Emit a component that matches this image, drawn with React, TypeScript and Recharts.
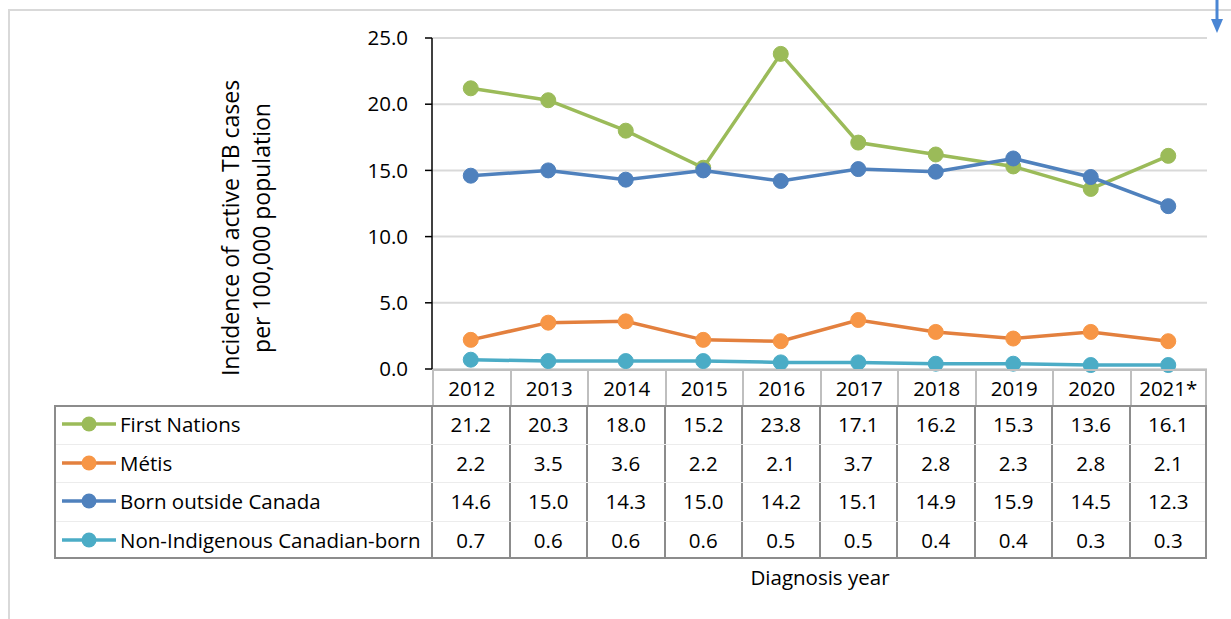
import React from 'react';
import { LineChart, Line, XAxis, YAxis, CartesianGrid } from 'recharts';

const years = ['2012', '2013', '2014', '2015', '2016', '2017', '2018', '2019', '2020', '2021*'];
const firstNations = [21.2, 20.3, 18.0, 15.2, 23.8, 17.1, 16.2, 15.3, 13.6, 16.1];
const metis = [2.2, 3.5, 3.6, 2.2, 2.1, 3.7, 2.8, 2.3, 2.8, 2.1];
const bornOutside = [14.6, 15.0, 14.3, 15.0, 14.2, 15.1, 14.9, 15.9, 14.5, 12.3];
const nonIndigenous = [0.7, 0.6, 0.6, 0.6, 0.5, 0.5, 0.4, 0.4, 0.3, 0.3];
const yTicks = [0, 5, 10, 15, 20, 25];

const seriesList = [
  { key: 'fn', name: 'First Nations', values: firstNations, stroke: '#9BBB59', fill: '#9BBB59' },
  { key: 'me', name: 'Métis', values: metis, stroke: '#E3803E', fill: '#F79646' },
  { key: 'bo', name: 'Born outside Canada', values: bornOutside, stroke: '#4F81BD', fill: '#4F81BD' },
  { key: 'ni', name: 'Non-Indigenous Canadian-born', values: nonIndigenous, stroke: '#4BACC6', fill: '#4BACC6' },
];

const data = years.map((y, i) => {
  const row: any = { year: y };
  seriesList.forEach((s) => (row[s.key] = s.values[i]));
  return row;
});

const FONT = '"Open Sans", Lato, sans-serif';
const FS = 20.5;
const PLOT_L = 432;
const PLOT_R = 1207;
const PLOT_T = 38;
const PLOT_B = 369;
const COL_W = (PLOT_R - PLOT_L) / years.length;
const HEAD_B = 405;
const ROW_H = 38.5;
const LEG_L = 54;
const TABLE_B = HEAD_B + ROW_H * 4;
const BORDER = '#8c8c8c';

export default function App() {
  const W = 1231;
  const H = 619;
  return (
    <div style={{ position: 'absolute', left: 0, top: 0, width: W, height: H, background: '#fff', fontFamily: FONT, overflow: 'hidden' }}>
      {/* outer frame */}
      <div style={{ position: 'absolute', left: 8, top: 9, width: W, height: H, borderLeft: '2px solid #d9d9d9', borderTop: '2px solid #d9d9d9' }} />
      {/* arrow decoration */}
      <svg style={{ position: 'absolute', left: 0, top: 0 }} width={W} height={H}>
        <line x1={1217} y1={0} x2={1217} y2={22} stroke="#4A86D4" strokeWidth={3} />
        <polygon points="1211,19 1223,19 1217,33" fill="#4A86D4" />
      </svg>
      <div style={{ position: 'absolute', left: 0, top: 0 }}>
        <LineChart
          width={W}
          height={H}
          data={data}
          margin={{ top: PLOT_T, right: W - PLOT_R, bottom: H - PLOT_B, left: PLOT_L - 80 }}
        >
          <CartesianGrid horizontal vertical={false} stroke="#d9d9d9" strokeWidth={2} />
          <XAxis dataKey="year" hide padding={{ left: COL_W / 2, right: COL_W / 2 }} />
          <YAxis
            width={80}
            domain={[0, 25]}
            ticks={yTicks}
            tickFormatter={(v: number) => v.toFixed(1)}
            axisLine={{ stroke: '#000', strokeWidth: 1.5 }}
            tickLine={{ stroke: '#000', strokeWidth: 1.5 }}
            tickSize={7}
            tickMargin={17}
            tick={{ fill: '#000', fontSize: FS, fontFamily: FONT }}
          />
          {seriesList.map((s) => (
            <Line
              key={s.key}
              dataKey={s.key}
              name={s.name}
              stroke={s.stroke}
              strokeWidth={3.5}
              dot={{ r: 7.5, fill: s.fill, stroke: s.fill, strokeWidth: 1 }}
              activeDot={false}
              isAnimationActive={false}
            />
          ))}
        </LineChart>
      </div>

      {/* Y axis title */}
      <div
        style={{
          position: 'absolute',
          left: 246 - 200,
          top: 228 - 40,
          width: 400,
          height: 80,
          transform: 'rotate(-90deg)',
          textAlign: 'center',
          fontSize: 23,
          lineHeight: '31px',
          color: '#000',
          display: 'flex',
          flexDirection: 'column',
          justifyContent: 'center',
        }}
      >
        <div>Incidence of active TB cases</div>
        <div>per 100,000 population</div>
      </div>

      {/* Data table: header row */}
      {years.map((y, i) => (
        <div
          key={'h' + y}
          style={{
            position: 'absolute',
            left: PLOT_L + i * COL_W,
            top: PLOT_B,
            width: COL_W,
            height: HEAD_B - PLOT_B,
            boxSizing: 'border-box',
            borderLeft: '2px solid #bfbfbf',
            borderRight: i === years.length - 1 ? '2px solid #bfbfbf' : 'none',
            borderTop: '2px solid #bfbfbf',
            display: 'flex',
            alignItems: 'center',
            justifyContent: 'center',
            fontSize: FS,
            color: '#000',
          }}
        >
          {y}
        </div>
      ))}
      {/* table body outer */}
      <div
        style={{
          position: 'absolute',
          left: LEG_L,
          top: HEAD_B,
          width: PLOT_R - LEG_L,
          height: TABLE_B - HEAD_B,
          boxSizing: 'border-box',
          border: '2px solid ' + BORDER,
        }}
      />
      {/* vertical lines */}
      {years.map((y, i) => (
        <div
          key={'v' + y}
          style={{ position: 'absolute', left: PLOT_L + i * COL_W - 1, top: HEAD_B, width: 2, height: TABLE_B - HEAD_B, background: BORDER }}
        />
      ))}
      {/* faint row separators */}
      {[1, 2, 3].map((r) => (
        <div
          key={'r' + r}
          style={{ position: 'absolute', left: LEG_L + 2, top: HEAD_B + r * ROW_H, width: PLOT_R - LEG_L - 4, height: 1, background: '#ececec' }}
        />
      ))}
      {/* legend column + values */}
      {seriesList.map((s, r) => (
        <React.Fragment key={'row' + s.key}>
          <div
            style={{
              position: 'absolute',
              left: LEG_L + 6,
              top: HEAD_B + r * ROW_H,
              height: ROW_H,
              display: 'flex',
              alignItems: 'center',
              fontSize: FS,
              color: '#000',
              whiteSpace: 'nowrap',
            }}
          >
            <svg width={58} height={20} style={{ marginRight: 2 }}>
              <line x1={2} y1={10} x2={56} y2={10} stroke={s.stroke} strokeWidth={3.5} />
              <circle cx={29} cy={10} r={7.5} fill={s.fill} />
            </svg>
            {s.name}
          </div>
          {s.values.map((v, i) => (
            <div
              key={s.key + i}
              style={{
                position: 'absolute',
                left: PLOT_L + i * COL_W,
                top: HEAD_B + r * ROW_H,
                width: COL_W,
                height: ROW_H,
                display: 'flex',
                alignItems: 'center',
                justifyContent: 'center',
                fontSize: FS,
                color: '#000',
              }}
            >
              {v.toFixed(1)}
            </div>
          ))}
        </React.Fragment>
      ))}

      {/* X axis title */}
      <div style={{ position: 'absolute', left: 720, top: 563, width: 200, textAlign: 'center', fontSize: FS, color: '#000' }}>
        Diagnosis year
      </div>
    </div>
  );
}
